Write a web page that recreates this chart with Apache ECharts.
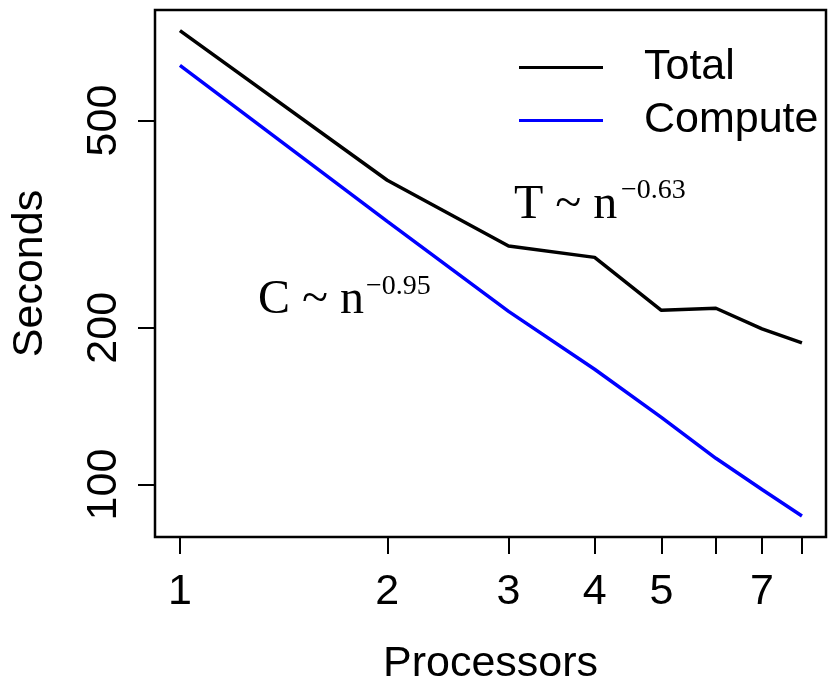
<!DOCTYPE html>
<html>
<head>
<meta charset="utf-8" />
<title>Seconds vs Processors</title>
<script src="https://cdn.jsdelivr.net/npm/echarts@6/dist/echarts.min.js"></script>
<style>
  html, body { margin: 0; padding: 0; background: #fff; }
  #chart { width: 829px; height: 682px; }
</style>
</head>
<body>
<div id="chart"></div>
<script type="text/javascript">
    // data (log-log)
    var procs = [1, 2, 3, 4, 5, 6, 7, 8];
    var totalSec = [744, 384, 287, 273, 216, 218, 199, 187];
    var computeSec = [638, 320, 215, 166.5, 134.6, 112.3, 97.8, 87.0];
    var xTicks = [1, 2, 3, 4, 5, 6, 7, 8];
    var xLabels = [1, 2, 3, 4, 5, 7];
    var yTicks = [100, 200, 500];

    function pairs(xs, ys) {
        var out = [];
        for (var i = 0; i < xs.length; i++) out.push([xs[i], ys[i]]);
        return out;
    }

    var sans = 'Liberation Sans';
    var serif = 'Liberation Serif';

    var myChart = echarts.init(document.getElementById('chart'));

    myChart.setOption({
        animation: false,
        backgroundColor: '#fff',
        grid: {
            left: 155,
            right: 3,
            top: 10,
            bottom: 145,
            outerBoundsMode: 'none',
            containLabel: false,
            show: true,
            borderColor: '#000',
            borderWidth: 2.5
        },
        legend: {
            orient: 'vertical',
            left: 514,
            top: 36,
            icon: 'rect',
            itemWidth: 84,
            itemHeight: 3,
            itemGap: 0,
            selectedMode: false,
            textStyle: {
                fontFamily: sans,
                fontSize: 43,
                color: '#000',
                lineHeight: 53,
                padding: [0, 0, 0, 36]
            },
            data: ['Total', 'Compute']
        },
        xAxis: {
            type: 'log',
            logBase: 10,
            min: 0.92,
            max: 8.67,
            name: 'Processors',
            nameLocation: 'middle',
            nameGap: 106,
            nameTextStyle: { fontFamily: sans, fontSize: 43, color: '#000' },
            axisLine: { show: false },
            axisTick: {
                show: true,
                inside: false,
                length: 17,
                lineStyle: { color: '#000', width: 2 },
                customValues: xTicks
            },
            axisLabel: {
                fontFamily: sans,
                fontSize: 43,
                color: '#000',
                margin: 34,
                customValues: xLabels,
                formatter: function (v) { return String(Math.round(v)); }
            },
            splitLine: { show: false }
        },
        yAxis: {
            type: 'log',
            logBase: 10,
            min: 79.3,
            max: 815,
            name: 'Seconds',
            nameLocation: 'middle',
            nameGap: 103,
            nameTextStyle: { fontFamily: sans, fontSize: 43, color: '#000' },
            axisLine: { show: false },
            axisTick: {
                show: true,
                inside: false,
                length: 17,
                lineStyle: { color: '#000', width: 2 },
                customValues: yTicks
            },
            axisLabel: {
                fontFamily: sans,
                fontSize: 43,
                color: '#000',
                rotate: 90,
                margin: 29,
                customValues: yTicks,
                formatter: function (v) { return String(Math.round(v)); }
            },
            splitLine: { show: false }
        },
        series: [{
            name: 'Total',
            type: 'line',
            symbol: 'none',
            color: '#000000',
            lineStyle: { color: '#000000', width: 3.5 },
            data: pairs(procs, totalSec)
        }, {
            name: 'Compute',
            type: 'line',
            symbol: 'none',
            color: '#0000ff',
            lineStyle: { color: '#0000ff', width: 3.5 },
            data: pairs(procs, computeSec)
        }],
        graphic: [{
            type: 'text',
            left: 514,
            top: 181,
            style: { text: 'T ~ n', font: '48px "' + serif + '"', fill: '#000' }
        }, {
            type: 'text',
            left: 621,
            top: 177,
            style: { text: '\u22120.63', font: '28px "' + serif + '"', fill: '#000' }
        }, {
            type: 'text',
            left: 258,
            top: 276,
            style: { text: 'C ~ n', font: '48px "' + serif + '"', fill: '#000' }
        }, {
            type: 'text',
            left: 366,
            top: 273,
            style: { text: '\u22120.95', font: '28px "' + serif + '"', fill: '#000' }
        }]
    });
</script>
</body>
</html>
